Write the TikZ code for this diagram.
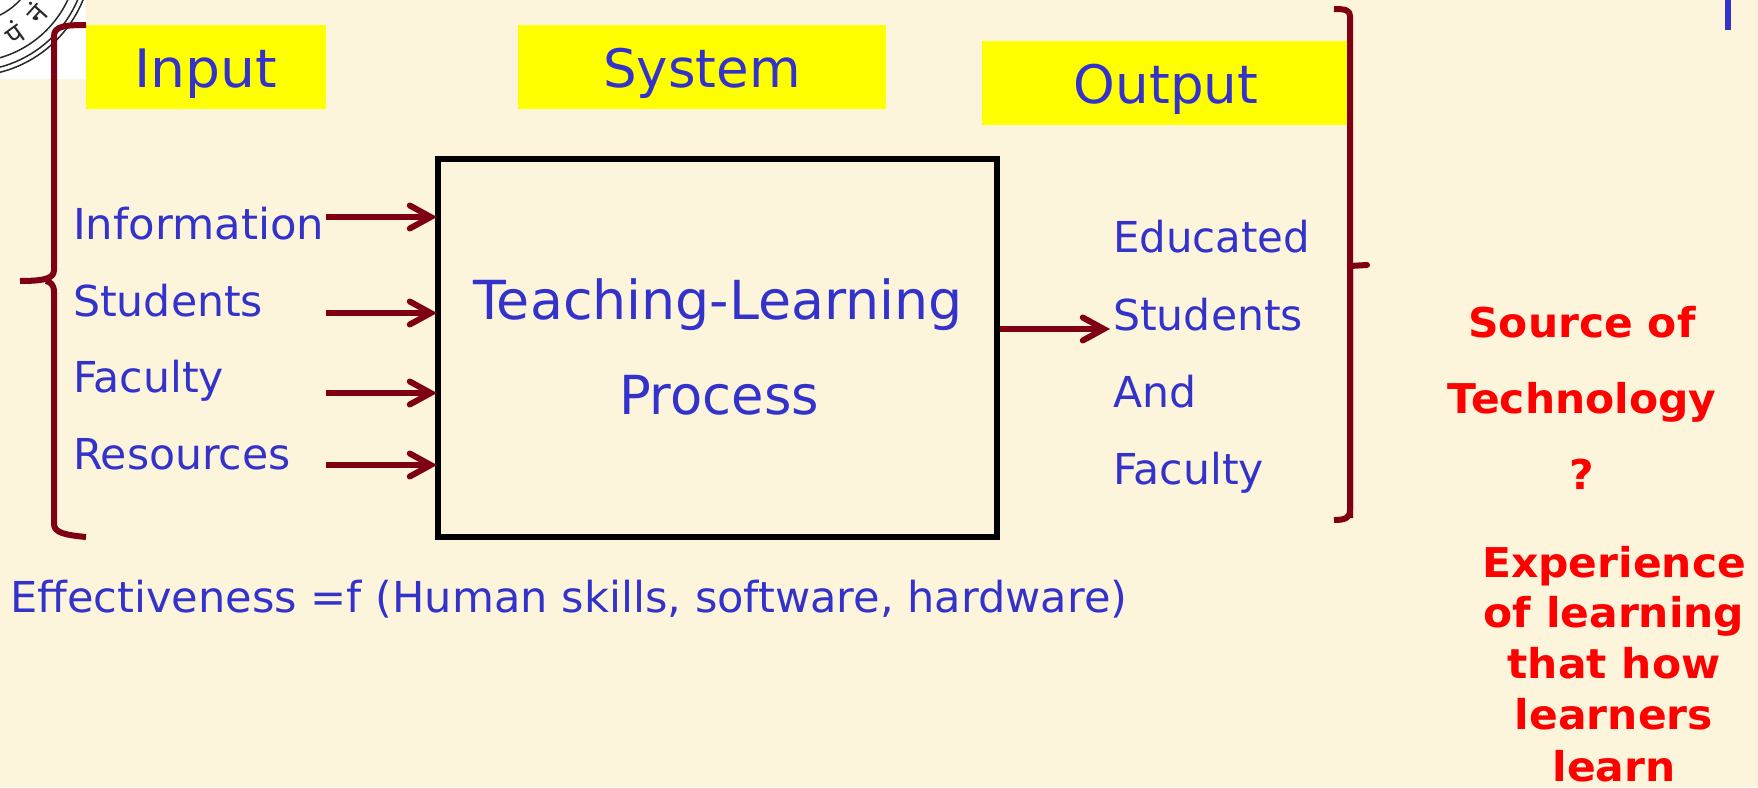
\documentclass[tikz,border=0pt]{standalone}
\usepackage{graphicx}
\usepackage{fontspec}
\setmainfont{DejaVu Sans}
\newfontfamily\redf[FakeStretch=1.035]{DejaVu Sans}
\newfontfamily\devf[Script=Devanagari]{Noto Sans}
\usetikzlibrary{arrows.meta}
\definecolor{bgc}{RGB}{253,244,220}
\definecolor{bluet}{RGB}{51,51,204}
\definecolor{dred}{RGB}{127,0,18}
\definecolor{yelc}{RGB}{255,255,0}
\definecolor{redc}{RGB}{255,0,0}
\definecolor{whc}{RGB}{255,255,255}
\definecolor{sealc}{RGB}{40,40,40}
\newcommand{\fs}[1]{\fontsize{#1}{#1}\selectfont}
\newcommand{\wid}[2]{\scalebox{#1}[1]{#2}}
\tikzset{x=1pt,y=-1pt,
 lbl/.style={inner sep=0pt,anchor=base west,text=bluet,font=\fs{42.6}},
 hdr/.style={inner sep=0pt,anchor=base,text=bluet,font=\fs{53}},
 big/.style={inner sep=0pt,anchor=base,text=bluet,font=\fs{53.8}},
 rtxt/.style={inner sep=0pt,anchor=base,text=redc,font=\fs{41}\redf\bfseries},
 seal/.style={draw=sealc,line width=1.5pt},
 sealtxt/.style={inner sep=0pt,text=sealc,font=\fs{28}\devf},
 yel/.style={fill=yelc,draw=none},
 flow/.style={draw=dred,line width=6pt,-{Straight Barb[length=21pt,width=23pt,line cap=round]},shorten >=-2pt},
 brace/.style={draw=dred,line width=6pt,line join=round}
}
\begin{document}
\begin{tikzpicture}
\useasboundingbox (0,0) rectangle (1758,787);
\fill[bgc] (0,0) rectangle (1758,787);
% seal fragment
\fill[whc] (0,0) rectangle (86,79);
\begin{scope}
\clip (0,0) rectangle (86,79);
\draw[seal] (-30,-46) circle (122);
\draw[seal] (-30,-46) circle (117);
\draw[seal] (-30,-46) circle (108);
\draw[seal] (-30,-46) circle (68);
\node[sealtxt,rotate=36] (sa) at (14,33) {पं};
\node[sealtxt,rotate=48] (sb) at (36,13) {नं};
\end{scope}
% boxes
\fill[yel] (86,25) rectangle (326,109);
\fill[yel] (518,25) rectangle (886,109);
\fill[yel] (982,41) rectangle (1347,125);
\node[hdr] (inp) at (206,87) {\wid{1.04}{Input}};
\node[hdr] (sys) at (702,87) {System};
\node[hdr] (outp) at (1166,103) {Output};
\node[draw=black,line width=6pt,minimum width=559pt,minimum height=378pt,inner sep=0pt] (proc) at (717.5,348) {};
\node[big] (t1) at (718,319) {Teaching-Learning};
\node[big] (t2) at (719,414) {\wid{0.98}{Process}};
% inputs
\node[lbl] (l1) at (73,239) {\wid{1.018}{Information}};
\node[lbl] (l2) at (73,316) {Students};
\node[lbl] (l3) at (73,392) {Faculty};
\node[lbl] (l4) at (73,469) {Resources};
\coordinate (a1) at (326,217);
\coordinate (a2) at (326,313);
\coordinate (a3) at (326,393);
\coordinate (a4) at (326,465);
\draw[flow] (a1) -- (a1 -| proc.west);
\draw[flow] (a2) -- (a2 -| proc.west);
\draw[flow] (a3) -- (a3 -| proc.west);
\draw[flow] (a4) -- (a4 -| proc.west);
% outputs
\node[lbl] (o1) at (1113,252) {\wid{0.983}{Educated}};
\node[lbl] (o2) at (1113,330) {Students};
\node[lbl] (o3) at (1113,407) {And};
\node[lbl] (o4) at (1113,484) {Faculty};
\coordinate (oe) at (1108,329);
\draw[flow] (oe -| proc.east) -- (oe);
\node[lbl] (eff) at (10,612) {\wid{1.012}{Effectiveness =f (Human skills, software, hardware)}};
% braces
\draw[brace] (86,25) .. controls (66,25) and (54,26) .. (54,36) -- (54,270) .. controls (54,278) and (46,281) .. (20,281);
\draw[brace] (46,281) .. controls (50,282) and (54,284) .. (54,292) -- (54,524) .. controls (54,533) and (66,535) .. (86,537);
\draw[brace] (1334,9) .. controls (1345,9) and (1350,10) .. (1350,16) -- (1350,518);
\draw[brace,line cap=round] (1350,266) -- (1367,265);
\draw[brace] (1350,266) -- (1350,510) .. controls (1350,518) and (1345,520) .. (1334,520);
% blue bar
\fill[bluet] (1725,0) rectangle (1731,30);
% red
\node[rtxt] (r1) at (1582,337) {Source of};
\node[rtxt] (r2) at (1582,413) {Technology};
\node[rtxt] (r3) at (1582,489) {?};
\node[rtxt] (r4) at (1614,577) {Experience};
\node[rtxt] (r5) at (1614,627) {of learning};
\node[rtxt] (r6) at (1614,678) {that how};
\node[rtxt] (r7) at (1614,729) {learners};
\node[rtxt] (r8) at (1614,781) {learn};
\end{tikzpicture}
\end{document}
